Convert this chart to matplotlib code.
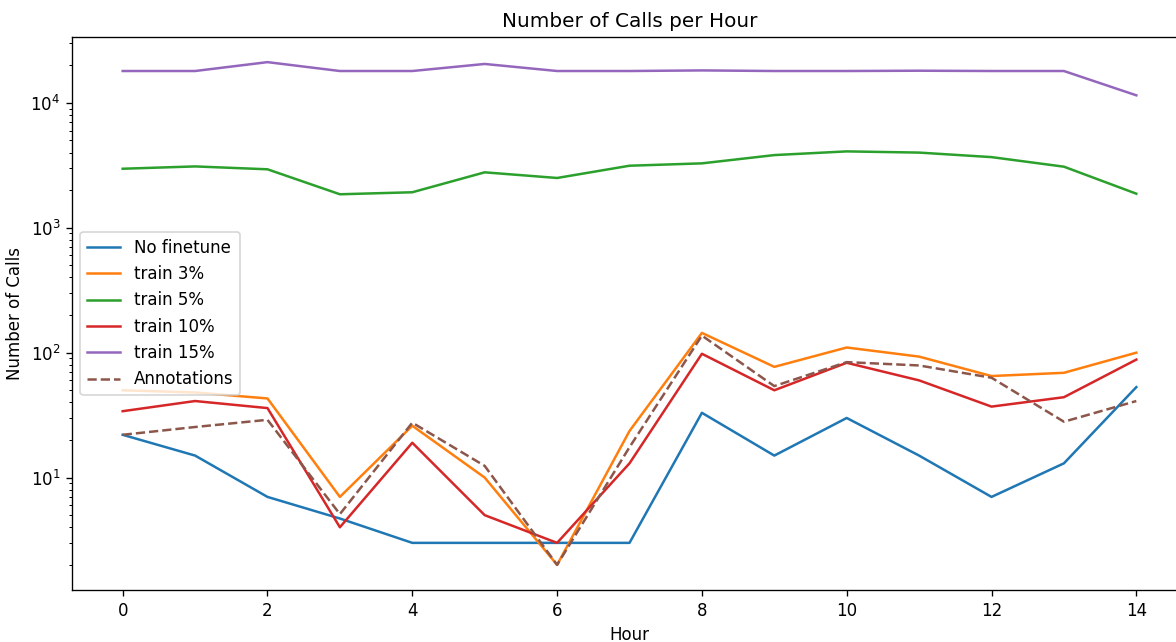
import matplotlib
matplotlib.use("Agg")
import matplotlib.pyplot as plt

hours = list(range(15))
no_finetune = [22, 15, 7, 4.7, 3, 3, 3, 3, 33, 15, 30, 15, 7, 13, 53]
train_3 = [50, 48, 43, 7, 26, 10, 2, 23.6, 144, 77, 110, 93, 65, 69, 100]
train_5 = [2970, 3100, 2940, 1855, 1925, 2780, 2505, 3140, 3280, 3820, 4090, 4000, 3680, 3085, 1875]
train_10 = [34, 41, 36, 4, 19, 5, 3, 13, 98, 50, 83, 60, 37, 44, 88]
train_15 = [18000, 18000, 21200, 18000, 18000, 20500, 18000, 18000, 18200, 18000, 18000, 18100, 18000, 18000, 11500]
annotations = [22, 25.4, 29, 5.1, 27.5, 12.4, 2, 17.5, 137, 54, 84, 79, 63, 28, 41]

DPI = 120
fig = plt.figure(figsize=(1176 / DPI, 642 / DPI), dpi=DPI)
ax = fig.add_axes([72 / 1176, 1 - 590 / 642, (1187 - 72) / 1176, (590 - 37) / 642])

ax.plot(hours, no_finetune, label='No finetune')
ax.plot(hours, train_3, label='train 3%')
ax.plot(hours, train_5, label='train 5%')
ax.plot(hours, train_10, label='train 10%')
ax.plot(hours, train_15, label='train 15%')
ax.plot(hours, annotations, '--', label='Annotations')

ax.set_yscale('log')
ax.set_xticks(range(0, 15, 2))
ax.set_title('Number of Calls per Hour')
ax.set_xlabel('Hour')
ax.set_ylabel('Number of Calls')
ax.legend(loc='center left')

fig.savefig('out.png', dpi=DPI)
